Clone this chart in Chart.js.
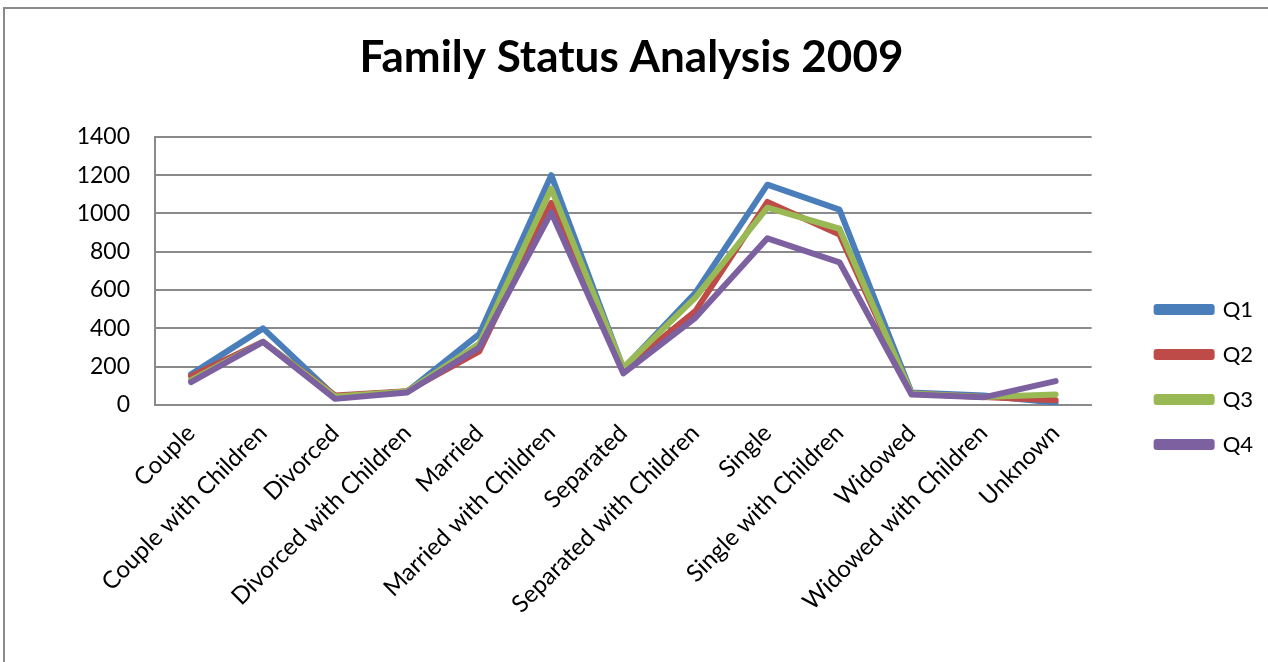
<!DOCTYPE html>
<html>
<head>
<meta charset="utf-8">
<script src="https://cdn.jsdelivr.net/npm/chart.js@4.4.0/dist/chart.umd.min.js"></script>
<style>
  body { margin: 0; background: #fff; }
  #wrap { position: relative; width: 1268px; height: 662px; overflow: hidden; }
  #frame { position: absolute; left: 3px; top: 7px; width: 1300px; height: 700px; border: 2px solid #8a8a8a; box-sizing: border-box; pointer-events: none; }
  canvas { position: absolute; left: 0; top: 0; }
</style>
</head>
<body>
<div id="wrap">
  <canvas id="myChart" width="1268" height="662"></canvas>
  <div id="frame"></div>
</div>
<script>
// categories along the x axis
var categories = ["Couple", "Couple with Children", "Divorced", "Divorced with Children",
    "Married", "Married with Children", "Separated", "Separated with Children",
    "Single", "Single with Children", "Widowed", "Widowed with Children", "Unknown"];

// quarter values
var q1 = [160, 400, 45, 70, 370, 1200, 190, 585, 1150, 1020, 65, 50, 12];
var q2 = [150, 330, 50, 72, 280, 1055, 185, 490, 1060, 890, 60, 42, 25];
var q3 = [130, 330, 45, 70, 320, 1130, 195, 560, 1030, 920, 60, 42, 55];
var q4 = [120, 330, 32, 65, 300, 1005, 165, 455, 870, 745, 55, 40, 125];

var seriesNames = ["Q1", "Q2", "Q3", "Q4"];
var seriesColors = ["#4a7ebb", "#be4b48", "#98b954", "#7d60a0"];

var config;

function makeDataset(i, values) {
    return {
        label: seriesNames[i],
        data: values,
        borderColor: seriesColors[i],
        backgroundColor: seriesColors[i],
        borderWidth: 6,
        pointRadius: 0,
        tension: 0,
        borderJoinStyle: "round",
        borderCapStyle: "round",
        order: 4 - i, // later series drawn on top
    };
}

// push the legend down to where the original sits (beside lower half of plot)
var legendNudge = {
    id: "legendNudge",
    afterLayout: function (chart) {
        chart.legend.top += 55;
        chart.legend.bottom += 55;
    },
};

function buildConfig() {
    config = {
        type: "line",
        data: {
            labels: categories,
            datasets: [makeDataset(0, q1), makeDataset(1, q2), makeDataset(2, q3), makeDataset(3, q4)],
        },
        plugins: [legendNudge],
        options: {
            responsive: false,
            animation: false,
            layout: { padding: { left: 0, right: 5, top: 0, bottom: 18 } },
            plugins: {
                title: {
                    display: true,
                    text: "Family Status Analysis 2009",
                    color: "#000",
                    font: { family: "Lato", size: 44, weight: "bold" },
                    padding: { top: 31, bottom: 53 },
                },
                legend: {
                    position: "right",
                    labels: {
                        boxWidth: 55,
                        boxHeight: 5,
                        padding: 23,
                        color: "#000",
                        font: { family: "Lato", size: 22 },
                        sort: (a, b) => a.datasetIndex - b.datasetIndex,
                    },
                },
                tooltip: { enabled: false },
            },
            scales: {
                x: {
                    offset: true,
                    grid: { display: false },
                    border: { display: true, color: "#8a8a8a", width: 2 },
                    ticks: {
                        color: "#000",
                        font: { family: "Lato", size: 24 },
                        maxRotation: 45,
                        minRotation: 45,
                        padding: 6,
                        autoSkip: false,
                    },
                    afterFit: (scale) => { scale.height = 239; },
                },
                y: {
                    min: 0,
                    max: 1400,
                    ticks: {
                        stepSize: 200,
                        color: "#000",
                        font: { family: "Lato", size: 23 },
                        padding: 25,
                        callback: function (value) { return value; },
                    },
                    grid: { color: "#8a8a8a", lineWidth: 2, drawTicks: false },
                    border: { display: true, color: "#8a8a8a", width: 2 },
                    afterFit: (scale) => { scale.width = 155; },
                },
                // empty spacer between plot and legend
                gap: {
                    position: "right",
                    display: true,
                    grid: { display: false },
                    border: { display: false },
                    ticks: { display: false },
                    afterFit: (scale) => { scale.width = 42; },
                },
            },
        },
    };
}

function run() {
    buildConfig();
    var ctx = document.getElementById("myChart").getContext("2d");
    var myChart = new Chart(ctx, config);
}

run();
</script>
</body>
</html>
